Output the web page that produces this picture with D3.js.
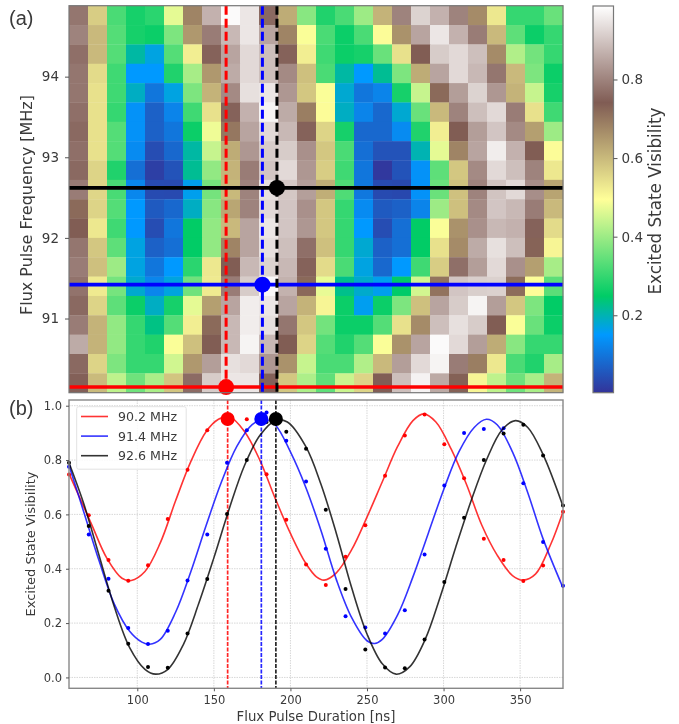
<!DOCTYPE html>
<html>
<head>
<meta charset="utf-8">
<script src="https://cdn.jsdelivr.net/npm/d3@7"></script>
<style>
    html, body { margin: 0; padding: 0; background: #fff; }
    svg { display: block; filter: blur(0.6px); }
    text { font-family: "DejaVu Sans", sans-serif; fill: #3a3a3a; }
</style>
</head>
<body>
<svg id="chart" width="679" height="724"></svg>
<script>
var legendLabels = ["90.2 MHz", "91.4 MHz", "92.6 MHz"];
var seriesColors = ["#ff0000", "#0000ff", "#000000"];
var durations = [55.4, 68.3, 81.2, 94.1, 107, 119.9, 132.8, 145.7, 158.6, 171.5, 184.4, 197.3, 210.2, 223.1,
    236, 248.9, 261.8, 274.7, 287.6, 300.5, 313.4, 326.3, 339.2, 352.1, 365, 378];
// row centres of the map, listed top row first
var frequencies = [94.76, 94.52, 94.28, 94.04, 93.8, 93.56, 93.32, 93.08, 92.84, 92.6,
    92.36, 92.12, 91.88, 91.64, 91.4, 91.16, 90.92, 90.68, 90.44, 90.2];

// measured points, also the rows 92.6, 91.4 and 90.2 of the map
var pointsRed = [.747, .597, .432, .356, .413, .583, .764, .91, .95, .95, .748, .58, .416, .34,
    .444, .56, .742, .89, .968, .858, .733, .51, .432, .355, .412, .61];
var pointsBlue = [.775, .526, .363, .182, .123, .172, .357, .526, .79, .91, .975, .871, .721, .474,
    .225, .184, .162, .247, .452, .706, .90, .914, .917, .715, .498, .337];
var pointsBlack = [.79, .557, .319, .124, .038, .036, .162, .362, .601, .80, .94, .904, .842, .617,
    .325, .103, .037, .034, .14, .351, .588, .80, .898, .93, .817, .633];

// fit curves: [duration, visibility]
var fitRed = [[55.4, .75], [70, .565], [80, .44], [90, .365], [96, .357], [105, .39], [115, .495], [125, .65],
    [135, .795], [145, .905], [153, .95], [160, .96], [170, .905], [180, .8], [190, .66], [200, .53], [210, .42],
    [217, .37], [222, .358], [230, .385], [240, .47], [250, .59], [260, .72], [270, .85], [280, .945], [287, .97],
    [295, .94], [305, .84], [315, .71], [325, .56], [335, .45], [345, .375], [352, .358], [360, .38], [370, .49], [378, .61]];
var fitBlue = [[55.4, .78], [65, .61], [75, .43], [85, .27], [95, .17], [103, .13], [108, .122], [115, .14], [125, .24],
    [135, .39], [145, .56], [155, .72], [165, .85], [175, .93], [183, .95], [190, .93], [200, .83], [210, .70],
    [220, .54], [230, .36], [240, .22], [250, .135], [255, .125], [260, .14], [270, .23], [280, .37], [290, .53],
    [300, .69], [310, .83], [320, .92], [328, .95], [335, .93], [345, .83], [355, .68], [365, .51], [378, .33]];
var fitBlack = [[55.4, .79], [65, .64], [75, .45], [85, .26], [95, .11], [105, .03], [112, .012], [120, .03], [130, .12],
    [140, .27], [150, .44], [160, .62], [170, .78], [180, .89], [190, .945], [198, .94], [210, .85], [220, .71],
    [230, .53], [240, .33], [250, .16], [260, .05], [269, .012], [278, .04], [288, .14], [298, .3], [308, .48],
    [318, .65], [328, .8], [338, .91], [347, .945], [355, .92], [365, .82], [378, .63]];

// excited state visibility, one list per frequency row
var mapRows = [
    [.78, .57, .32, .27, .29, .47, .68, .87, .98, .95, .76, .62, .38, .28, .32, .40, .61, .80, .92, .87, .80, .67, .53, .30, .30, .35],
    [.80, .60, .33, .27, .26, .37, .65, .79, .88, .95, .85, .68, .49, .32, .26, .32, .50, .66, .85, .95, .87, .79, .60, .34, .26, .30],
    [.77, .60, .33, .21, .17, .33, .52, .75, .85, .93, .89, .75, .52, .31, .26, .27, .35, .54, .74, .91, .93, .89, .67, .42, .36, .30],
    [.78, .55, .31, .15, .15, .28, .41, .65, .86, .93, .89, .81, .59, .32, .21, .15, .22, .37, .62, .85, .93, .88, .78, .60, .37, .26],
    [.78, .54, .31, .19, .10, .17, .37, .61, .81, .94, .95, .83, .58, .49, .18, .10, .12, .27, .44, .72, .84, .92, .83, .61, .44, .27],
    [.77, .54, .30, .14, .07, .12, .31, .54, .75, .87, .97, .86, .69, .50, .19, .12, .08, .18, .35, .60, .80, .89, .93, .79, .54, .31],
    [.76, .54, .33, .14, .07, .10, .26, .48, .70, .85, .93, .88, .75, .56, .27, .08, .08, .13, .28, .52, .74, .84, .90, .81, .64, .40],
    [.77, .54, .33, .13, .04, .08, .21, .44, .62, .83, .91, .91, .82, .58, .32, .09, .05, .05, .20, .47, .68, .85, .96, .87, .74, .50],
    [.76, .56, .28, .09, .02, .05, .22, .39, .61, .79, .90, .93, .83, .57, .31, .10, .01, .05, .14, .34, .58, .81, .93, .89, .80, .53],
    pointsBlack,
    [.72, .56, .33, .15, .06, .08, .19, .38, .63, .80, .93, .90, .82, .58, .30, .13, .06, .07, .12, .40, .59, .81, .90, .88, .79, .60],
    [.74, .53, .31, .15, .04, .10, .25, .39, .60, .85, .95, .90, .83, .58, .30, .15, .04, .09, .25, .49, .66, .82, .88, .87, .75, .55],
    [.78, .58, .34, .17, .07, .09, .25, .39, .68, .85, .94, .89, .77, .59, .30, .18, .07, .09, .25, .54, .67, .86, .94, .89, .73, .51],
    [.79, .59, .40, .17, .10, .15, .29, .53, .74, .88, .92, .88, .75, .55, .32, .17, .08, .15, .31, .57, .77, .84, .93, .82, .64, .41],
    pointsBlue,
    [.76, .56, .34, .26, .19, .27, .47, .64, .85, .96, .95, .85, .61, .51, .26, .16, .26, .37, .59, .85, .91, .97, .84, .58, .37, .25],
    [.79, .61, .39, .30, .23, .33, .52, .72, .88, .96, .94, .78, .58, .36, .26, .26, .33, .54, .67, .89, .94, .91, .74, .49, .35, .26],
    [.86, .61, .39, .30, .28, .49, .59, .74, .88, .97, .88, .74, .56, .33, .28, .33, .49, .66, .85, .98, .93, .84, .62, .38, .30, .30],
    [.76, .56, .37, .30, .30, .45, .65, .84, .94, .93, .83, .66, .44, .32, .32, .42, .60, .84, .93, .97, .79, .69, .53, .32, .28, .41],
    pointsRed
];

// terrain colormap stops
var terrainStops = [0, .15, .25, .5, .75, 1];
var terrainColors = ["#333399", "#0099ff", "#00cc66", "#ffff99", "#805c54", "#ffffff"];

var colorTicks = [.2, .4, .6, .8];
var freqTicks = [91, 92, 93, 94];
var durationTicks = [100, 150, 200, 250, 300, 350];
var visTicks = [0, .2, .4, .6, .8, 1];

var cutFreq = [90.15, 91.42, 92.62];
var cutPulseTop = [158, 181.7, 191.2];
var cutPulse = [159, 181, 190.5];
var peakVis = .951;

var svg = d3.select("#chart");

var left = 69, right = 563;
var xPulse = d3.scaleLinear().domain([55.4, 378]).range([left, right]);
var xCell = d3.scaleBand().domain(durations).range([left, right]);
var yCell = d3.scaleBand().domain(frequencies).range([5.7, 392.7]);
var yFreq = d3.scaleLinear().domain([90.08, 94.88]).range([392.7, 5.7]);
var yVis = d3.scaleLinear().domain([-.04, 1.021]).range([688.3, 400]);
var vScale = d3.scaleLinear().domain([.003, .987]).range([0, 1]);
var yBar = d3.scaleLinear().domain([.003, .987]).range([392.7, 6]);
var terrain = d3.scaleLinear().domain(terrainStops).range(terrainColors).interpolate(d3.interpolateRgb);

function color(v) {
    return terrain(vScale(v));
}

function styleAxis(g, size) {
    g.select(".domain").remove();
    g.selectAll(".tick line").attr("stroke", "#555").attr("stroke-width", 1);
    g.selectAll(".tick text").attr("font-size", size).style("font-family", '"DejaVu Sans", sans-serif').attr("fill", "#3a3a3a");
}

// panel (a)
var mapRow = svg.append("g").selectAll("g")
    .data(mapRows)
    .enter()
    .append("g")
    .attr("transform", function (d, i) {
        return "translate(0," + yCell(frequencies[i]) + ")";
    });
mapRow.selectAll("rect")
    .data(function (d) { return d; })
    .enter()
    .append("rect")
    .attr("x", function (d, i) { return xCell(durations[i]); })
    .attr("width", xCell.bandwidth() + .3)
    .attr("height", yCell.bandwidth() + .3)
    .attr("fill", function (d) { return color(d); });

cutFreq.forEach(function (f, i) {
    svg.append("line")
        .attr("x1", left).attr("x2", right)
        .attr("y1", yFreq(f)).attr("y2", yFreq(f))
        .attr("stroke", seriesColors[i])
        .attr("stroke-width", 3.6);
    svg.append("line")
        .attr("x1", xPulse(cutPulseTop[i])).attr("x2", xPulse(cutPulseTop[i]))
        .attr("y1", 5.7).attr("y2", 392.7)
        .attr("stroke", seriesColors[i])
        .attr("stroke-width", 3)
        .attr("stroke-dasharray", "9,4");
    svg.append("circle")
        .attr("cx", xPulse(cutPulseTop[i]))
        .attr("cy", yFreq(f))
        .attr("r", 8)
        .attr("fill", seriesColors[i]);
});

svg.append("rect")
    .attr("x", left).attr("y", 5.7)
    .attr("width", right - left).attr("height", 387)
    .attr("fill", "none")
    .attr("stroke", "#777")
    .attr("stroke-width", 1.2);

svg.append("g")
    .attr("transform", "translate(" + left + ",0)")
    .call(d3.axisLeft(yFreq).tickValues(freqTicks).tickFormat(d3.format("d")).tickSize(4).tickPadding(6))
    .call(styleAxis, 13.5);

svg.append("text")
    .attr("transform", "translate(32,205) rotate(-90)")
    .attr("text-anchor", "middle")
    .attr("font-size", 16)
    .text("Flux Pulse Frequency [MHz]");

// colorbar
var grad = svg.append("defs").append("linearGradient")
    .attr("id", "terrainGrad")
    .attr("x1", 0).attr("x2", 0).attr("y1", 1).attr("y2", 0);
grad.selectAll("stop")
    .data(terrainStops)
    .enter()
    .append("stop")
    .attr("offset", function (d) { return d; })
    .attr("stop-color", function (d, i) { return terrainColors[i]; });

svg.append("rect")
    .attr("x", 593).attr("y", 6)
    .attr("width", 20.5).attr("height", 386.7)
    .attr("fill", "url(#terrainGrad)")
    .attr("stroke", "#777")
    .attr("stroke-width", 1.2);

svg.append("g")
    .attr("transform", "translate(613.5,0)")
    .call(d3.axisRight(yBar).tickValues(colorTicks).tickFormat(d3.format(".1f")).tickSize(4).tickPadding(4))
    .call(styleAxis, 13.5);

svg.append("text")
    .attr("transform", "translate(661,201) rotate(-90)")
    .attr("text-anchor", "middle")
    .attr("font-size", 16.8)
    .text("Excited State Visibility");

// panel (b)
var plot = svg.append("g");

plot.selectAll(".gridx")
    .data(durationTicks)
    .enter()
    .append("line")
    .attr("x1", function (d) { return xPulse(d); })
    .attr("x2", function (d) { return xPulse(d); })
    .attr("y1", 400).attr("y2", 688.3)
    .attr("stroke", "#d4d4d4")
    .attr("stroke-width", .9)
    .attr("stroke-dasharray", "1.5,1");
plot.selectAll(".gridy")
    .data(visTicks)
    .enter()
    .append("line")
    .attr("x1", left).attr("x2", right)
    .attr("y1", function (d) { return yVis(d); })
    .attr("y2", function (d) { return yVis(d); })
    .attr("stroke", "#d4d4d4")
    .attr("stroke-width", .9)
    .attr("stroke-dasharray", "1.5,1");

var fitLine = d3.line()
    .x(function (d) { return xPulse(d[0]); })
    .y(function (d) { return yVis(d[1]); })
    .curve(d3.curveCatmullRom.alpha(.5));

var fits = [fitRed, fitBlue, fitBlack];
var points = [pointsRed, pointsBlue, pointsBlack];

fits.forEach(function (fit, i) {
    plot.append("line")
        .attr("x1", xPulse(cutPulse[i])).attr("x2", xPulse(cutPulse[i]))
        .attr("y1", 400).attr("y2", 688.3)
        .attr("stroke", seriesColors[i])
        .attr("stroke-width", 1.7)
        .attr("stroke-dasharray", "4,1.5")
        .attr("opacity", .85);
    plot.append("path")
        .datum(fit)
        .attr("d", fitLine)
        .attr("fill", "none")
        .attr("stroke", seriesColors[i])
        .attr("stroke-opacity", .8)
        .attr("stroke-width", 1.6);
    plot.selectAll(".pt" + i)
        .data(points[i])
        .enter()
        .append("circle")
        .attr("cx", function (d, j) { return xPulse(durations[j]); })
        .attr("cy", function (d) { return yVis(d); })
        .attr("r", 2)
        .attr("fill", seriesColors[i]);
});

cutPulse.forEach(function (p, i) {
    plot.append("circle")
        .attr("cx", xPulse(p))
        .attr("cy", yVis(peakVis))
        .attr("r", 7)
        .attr("fill", seriesColors[i]);
});

svg.append("rect")
    .attr("x", left).attr("y", 400)
    .attr("width", right - left).attr("height", 288.3)
    .attr("fill", "none")
    .attr("stroke", "#888")
    .attr("stroke-width", 1.4);

svg.append("g")
    .attr("transform", "translate(" + left + ",0)")
    .call(d3.axisLeft(yVis).tickValues(visTicks).tickFormat(d3.format(".1f")).tickSize(3).tickPadding(4))
    .call(styleAxis, 11.5);
svg.append("g")
    .attr("transform", "translate(0,688.3)")
    .call(d3.axisBottom(xPulse).tickValues(durationTicks).tickFormat(d3.format("d")).tickSize(3).tickPadding(5))
    .call(styleAxis, 11.5);

svg.append("text")
    .attr("transform", "translate(35,544) rotate(-90)")
    .attr("text-anchor", "middle")
    .attr("font-size", 13)
    .text("Excited State Visibility");
svg.append("text")
    .attr("x", 316).attr("y", 721)
    .attr("text-anchor", "middle")
    .attr("font-size", 13.3)
    .text("Flux Pulse Duration [ns]");

// legend
var legend = svg.append("g");
legend.append("rect")
    .attr("x", 76.7).attr("y", 406.7)
    .attr("width", 109.5).attr("height", 62.5)
    .attr("rx", 2)
    .attr("fill", "#fff")
    .attr("fill-opacity", .85)
    .attr("stroke", "#e2e2e2");
legendLabels.forEach(function (label, i) {
    var ly = 416.5 + i * 19.6;
    legend.append("line")
        .attr("x1", 81).attr("x2", 108)
        .attr("y1", ly).attr("y2", ly)
        .attr("stroke", seriesColors[i])
        .attr("stroke-opacity", .8)
        .attr("stroke-width", 1.6);
    legend.append("text")
        .attr("x", 118).attr("y", ly + 4.6)
        .attr("font-size", 12.6)
        .text(label);
});

// panel letters
svg.append("text")
    .attr("x", 9).attr("y", 25)
    .attr("font-size", 20)
    .style("font-family", '"Liberation Sans", sans-serif')
    .attr("fill", "#222")
    .text("(a)");
svg.append("text")
    .attr("x", 9).attr("y", 415)
    .attr("font-size", 20)
    .style("font-family", '"Liberation Sans", sans-serif')
    .attr("fill", "#222")
    .text("(b)");
</script>
</body>
</html>
